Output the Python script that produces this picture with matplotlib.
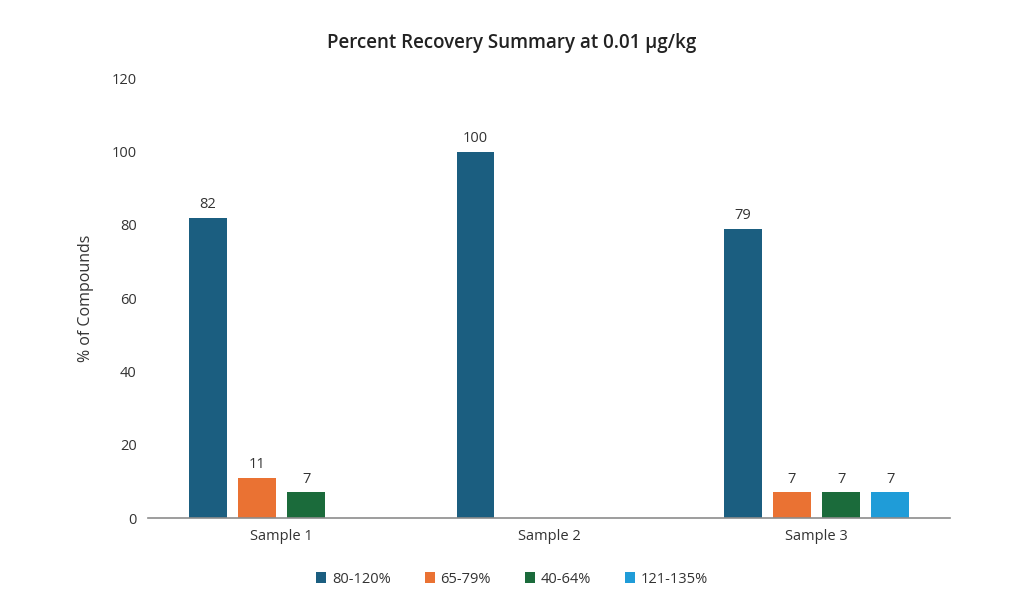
import numpy as np
import matplotlib
matplotlib.use('Agg')
import matplotlib.pyplot as plt

plt.rcParams['font.family'] = ['Open Sans', 'DejaVu Sans']

samples = ['Sample 1', 'Sample 2', 'Sample 3']
series = ['80-120%', '65-79%', '40-64%', '121-135%']
values = [
    [82, 100, 79],
    [11, None, 7],
    [7, None, 7],
    [None, None, 7],
]
colors = ['#1b5e80', '#ea7233', '#1b6b3b', '#1f9cd8']

fig = plt.figure(figsize=(10.24, 6.16), dpi=100)
ax = fig.add_axes([0.1445, 0.159, 0.7835, 0.714])

x = np.arange(len(samples))
step = 0.1835
width = 0.142
for i, (name, vals, c) in enumerate(zip(series, values, colors)):
    off = (i - 1.5) * step
    xs = [xi + off for xi, v in zip(x, vals) if v is not None]
    vs = [v for v in vals if v is not None]
    bars = ax.bar(xs, vs, width=width, color=c, label=name)
    for b, v in zip(bars, vs):
        ax.text(b.get_x() + b.get_width() / 2, v + 1.5, str(v),
                ha='center', va='bottom', fontsize=10.5, color='#333333')

ax.set_xlim(-0.5, 2.5)
ax.set_ylim(0, 120)
ax.set_yticks(range(0, 121, 20))
ax.set_xticks(x)
ax.set_xticklabels(samples)
ax.tick_params(axis='both', length=0, labelsize=10.5, colors='#333333')
ax.tick_params(axis='y', pad=8)
ax.tick_params(axis='x', pad=8)
for s in ['top', 'right', 'left']:
    ax.spines[s].set_visible(False)
ax.spines['bottom'].set_color('#8c8c8c')
ax.spines['bottom'].set_linewidth(1.2)

ax.set_ylabel('% of Compounds', fontsize=11.5, color='#333333', labelpad=13)
fig.suptitle('Percent Recovery Summary at 0.01 µg/kg', fontsize=13.5,
             fontweight='semibold', color='#222222', y=0.947)

fig.legend(loc='center', bbox_to_anchor=(0.5, 0.06), ncol=4, frameon=False,
           fontsize=10.5, handlelength=0.7, handleheight=0.7, handletextpad=0.4,
           columnspacing=2.3, labelcolor='#333333')

plt.savefig('out.png', dpi=100)
